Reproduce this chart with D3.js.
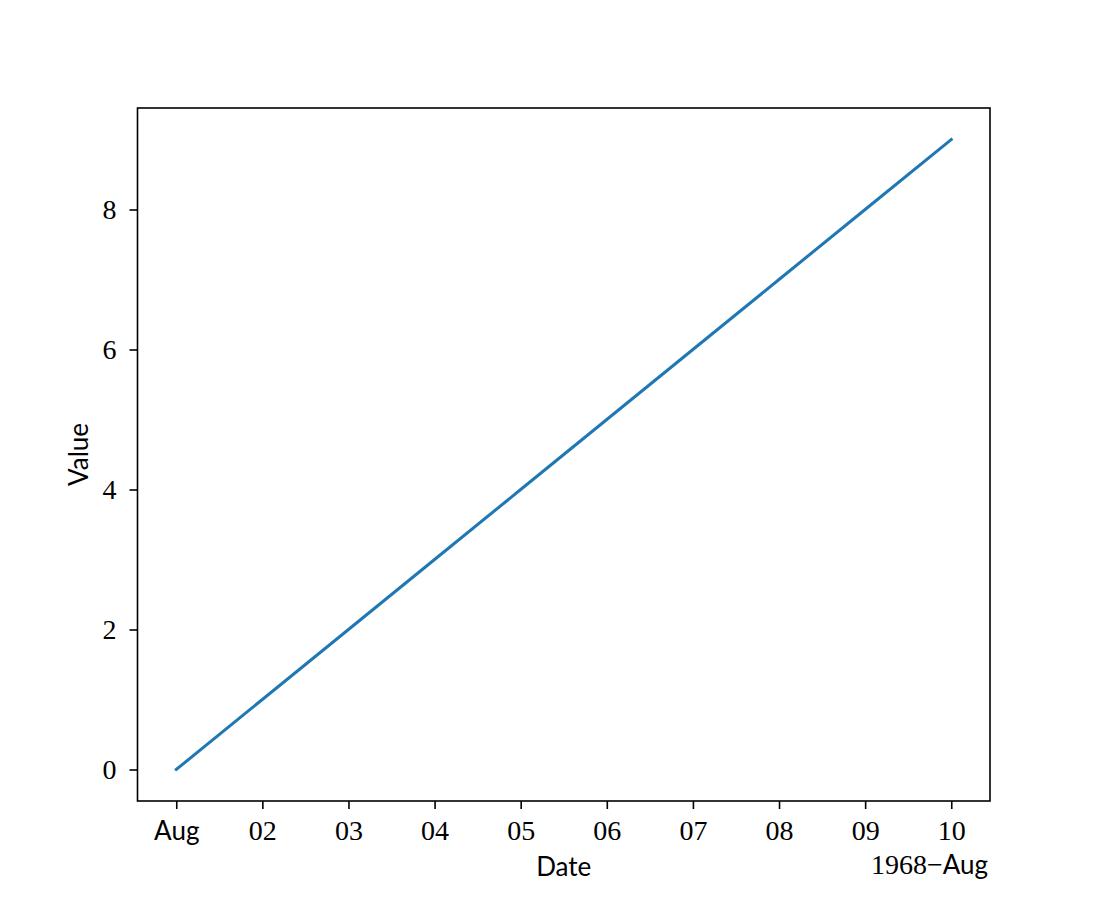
<!DOCTYPE html>
<html>
<head>
<meta charset="utf-8">
<script src="https://cdn.jsdelivr.net/npm/d3@7"></script>
<style>
  body { margin: 0; background: #fff; }
  svg { display: block; }
</style>
</head>
<body>
<svg id="chart" width="1100" height="900"></svg>
<script>
const dates = ["1968-08-01","1968-08-02","1968-08-03","1968-08-04","1968-08-05","1968-08-06","1968-08-07","1968-08-08","1968-08-09","1968-08-10"];
const values = [0, 1, 2, 3, 4, 5, 6, 7, 8, 9];
const xTickLabels = ["Aug","02","03","04","05","06","07","08","09","10"];
const yTicks = [0, 2, 4, 6, 8];
const offsetYear = "1968\u2212";
const offsetMonth = "Aug";

(function () {
const parse = d3.utcParse("%Y-%m-%d");
const data = dates.map((d, i) => ({ date: parse(d), value: values[i] }));

const mLeft = 137.5, mRight = 990, mTop = 108, mBottom = 801;

const t0 = data[0].date, t1 = data[data.length - 1].date;
const span = t1 - t0;
const x = d3.scaleUtc()
  .domain([new Date(+t0 - span * 0.05), new Date(+t1 + span * 0.05)])
  .range([mLeft, mRight]);
const vmin = d3.min(values), vmax = d3.max(values);
const vr = vmax - vmin;
const y = d3.scaleLinear()
  .domain([vmin - vr * 0.05, vmax + vr * 0.05])
  .range([mBottom, mTop]);

const svg = d3.select("#chart");
const serif = "'Liberation Serif', 'DejaVu Serif', serif";
const sans = "Lato, 'DejaVu Sans', sans-serif";
const serifSize = "28px", sansSize = "26px";

// line
const line = d3.line().x(d => x(d.date)).y(d => y(d.value));
svg.append("path").datum(data)
  .attr("d", line)
  .attr("fill", "none")
  .attr("stroke", "#1f77b4")
  .attr("stroke-width", 3)
  .attr("stroke-linecap", "square");

// x axis
const xAxis = d3.axisBottom(x)
  .tickValues(data.map(d => d.date))
  .tickSize(8)
  .tickPadding(10)
  .tickFormat((d, i) => xTickLabels[i]);
const gx = svg.append("g").attr("transform", `translate(0,${mBottom})`).call(xAxis);
gx.select(".domain").remove();
gx.selectAll(".tick line").attr("stroke", "#000").attr("stroke-width", 1.6);
gx.selectAll(".tick text")
  .attr("fill", "#000")
  .attr("y", 39)
  .attr("dy", 0)
  .style("font-size", (d, i) => i === 0 ? sansSize : serifSize)
  .style("font-family", (d, i) => i === 0 ? sans : serif);

// y axis
const yAxis = d3.axisLeft(y)
  .tickValues(yTicks)
  .tickSize(8)
  .tickPadding(13)
  .tickFormat(d3.format("d"));
const gy = svg.append("g").attr("transform", `translate(${mLeft},0)`).call(yAxis);
gy.select(".domain").remove();
gy.selectAll(".tick line").attr("stroke", "#000").attr("stroke-width", 1.6);
gy.selectAll(".tick text")
  .attr("fill", "#000")
  .attr("dy", "0.33em")
  .style("font-size", serifSize)
  .style("font-family", serif);

// frame
svg.append("rect")
  .attr("x", mLeft).attr("y", mTop)
  .attr("width", mRight - mLeft).attr("height", mBottom - mTop)
  .attr("fill", "none").attr("stroke", "#000").attr("stroke-width", 1.6);

// axis labels
svg.append("text")
  .attr("x", (mLeft + mRight) / 2).attr("y", 876)
  .attr("text-anchor", "middle")
  .style("font-family", sans).style("font-size", sansSize)
  .text("Date");

svg.append("text")
  .attr("transform", `translate(88,${(mTop + mBottom) / 2}) rotate(-90)`)
  .attr("text-anchor", "middle")
  .style("font-family", sans).style("font-size", sansSize)
  .text("Value");

// offset text
const off = svg.append("text")
  .attr("x", 988).attr("y", 874)
  .attr("text-anchor", "end");
off.append("tspan").style("font-family", serif).style("font-size", serifSize).text(offsetYear);
off.append("tspan").style("font-family", sans).style("font-size", sansSize).text(offsetMonth);
})();
</script>
</body>
</html>
